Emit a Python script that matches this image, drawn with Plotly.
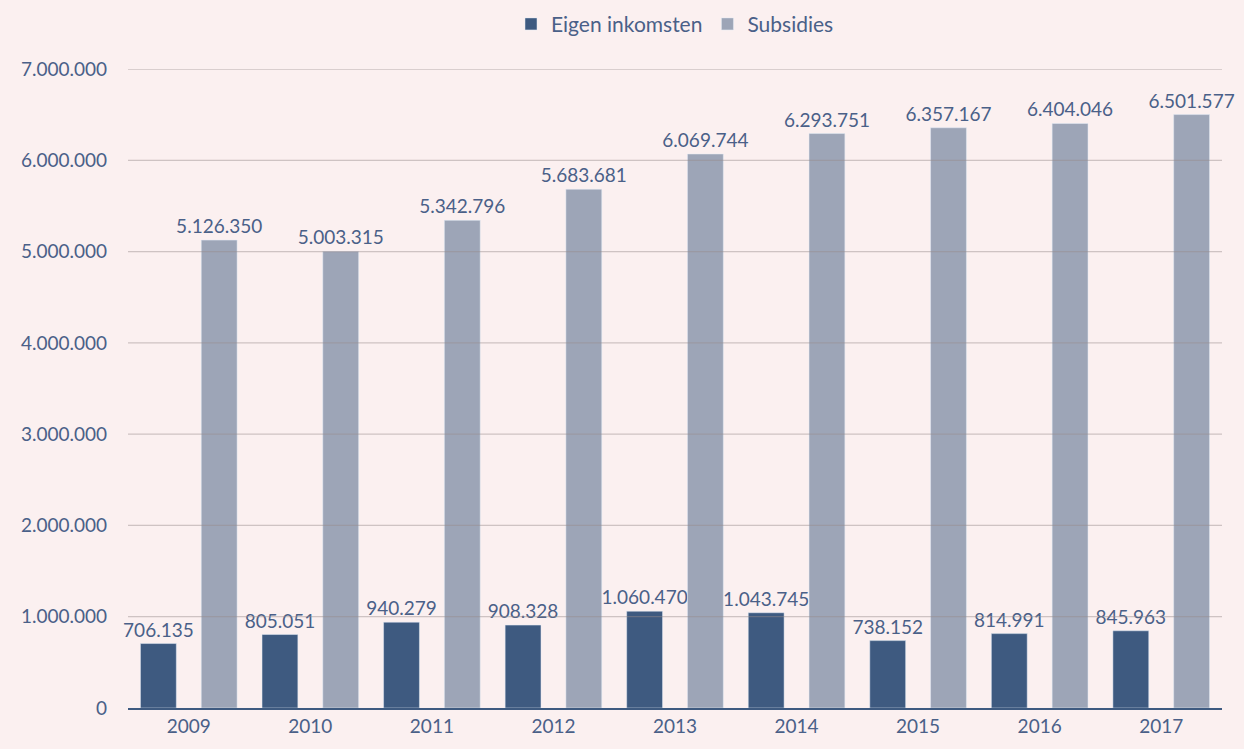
import plotly.graph_objects as go

years = ["2009", "2010", "2011", "2012", "2013", "2014", "2015", "2016", "2017"]
eigen = [706135, 805051, 940279, 908328, 1060470, 1043745, 738152, 814991, 845963]
subsidies = [5126350, 5003315, 5342796, 5683681, 6069744, 6293751, 6357167, 6404046, 6501577]
ytick_vals = [0, 1000000, 2000000, 3000000, 4000000, 5000000, 6000000, 7000000]

def nl(v):
    return f"{v:,}".replace(",", ".")

txt_color = "#4a6088"
bg = "#fbf0f0"
font_family = "Lato, Open Sans, sans-serif"

fig = go.Figure()
fig.add_trace(go.Bar(
    x=years, y=eigen, name="Eigen inkomsten", marker_color="#3e5a80",
    text=[nl(v) for v in eigen], textposition="outside", constraintext="none",
    textfont=dict(size=19, color=txt_color, family=font_family), cliponaxis=False,
))
fig.add_trace(go.Bar(
    x=years, y=subsidies, name="Subsidies", marker_color="#9da5b7",
    text=[nl(v) for v in subsidies], textposition="outside", constraintext="none",
    textfont=dict(size=19, color=txt_color, family=font_family), cliponaxis=False,
))

# gridlines drawn above the bars, as in the reference
for v in ytick_vals[1:]:
    fig.add_shape(type="line", xref="paper", yref="y", x0=0, x1=1, y0=v, y1=v,
                  line=dict(color="rgba(150,140,140,0.45)", width=1.2), layer="above")

fig.update_layout(
    width=1244, height=749,
    paper_bgcolor=bg, plot_bgcolor=bg,
    margin=dict(l=128, r=22, t=65, b=38),
    barmode="group", bargap=0.0, bargroupgap=0.41,
    separators=",.",
    font=dict(family=font_family, color=txt_color, size=19),
    legend=dict(orientation="h", x=0.5, xanchor="center", y=0.995, yanchor="top",
                yref="container", font=dict(size=21, color=txt_color),
                traceorder="normal"),
    showlegend=True,
)
fig.update_xaxes(showline=True, linecolor="#3e5a80", linewidth=1.5,
                 tickfont=dict(size=19, color=txt_color), ticks="", showgrid=False)
fig.update_yaxes(range=[0, 7000000], tickvals=ytick_vals,
                 ticktext=[nl(v) for v in ytick_vals], showgrid=False,
                 zeroline=False, tickfont=dict(size=19, color=txt_color),
                 ticklabelstandoff=20)

fig.write_html(
    "out.html",
    config={"displayModeBar": False},
    post_script="document.body.style.margin='0';document.body.style.background='" + bg + "';document.body.style.overflow='hidden';",
)
